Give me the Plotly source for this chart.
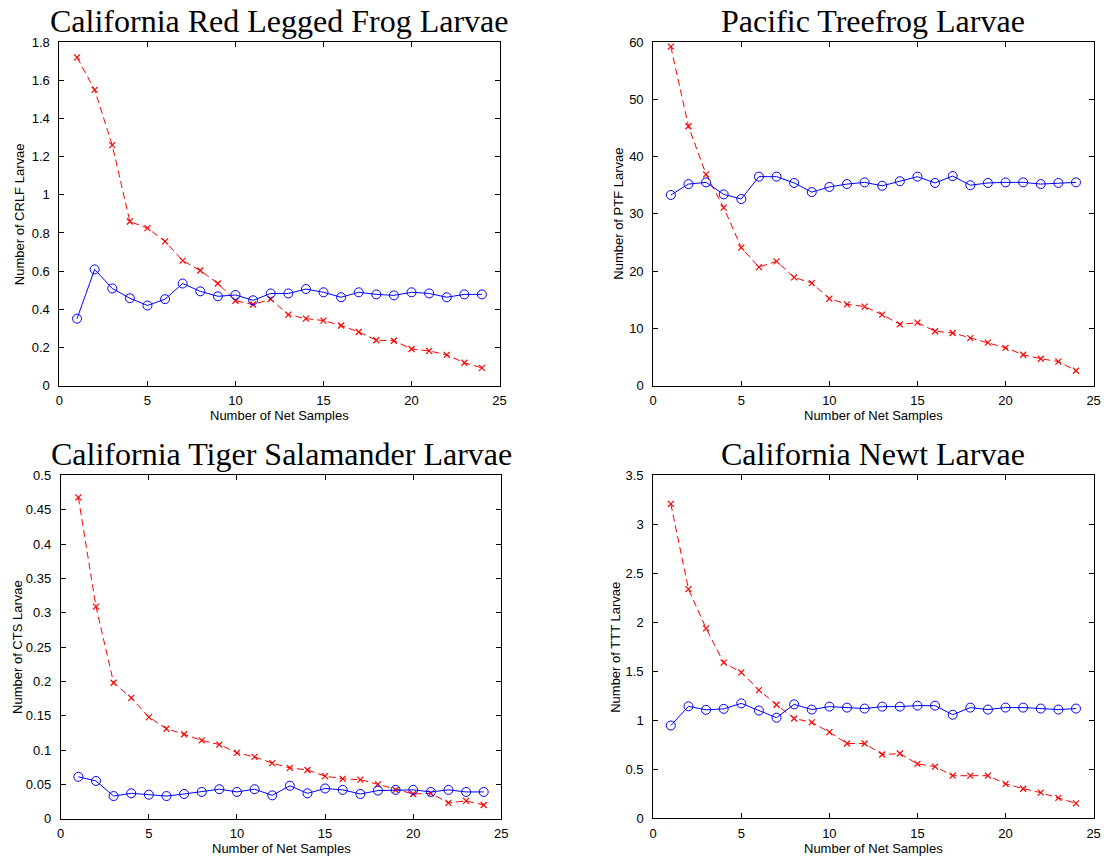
import plotly.graph_objects as go

samples = list(range(1, 25))

# California Red Legged Frog (CRLF)
crlf_red = [1.72, 1.55, 1.26, 0.86, 0.825, 0.756, 0.655, 0.603, 0.535, 0.445, 0.425, 0.453,
            0.372, 0.351, 0.341, 0.315, 0.281, 0.238, 0.235, 0.192, 0.182, 0.161, 0.12, 0.093]
crlf_blue = [0.351, 0.609, 0.509, 0.458, 0.42, 0.453, 0.535, 0.494, 0.468, 0.475, 0.447, 0.483,
             0.483, 0.506, 0.489, 0.463, 0.489, 0.478, 0.473, 0.489, 0.483, 0.463, 0.478, 0.478]

# Pacific Treefrog (PTF)
ptf_red = [59.2, 45.3, 36.9, 31.1, 24.1, 20.7, 21.7, 18.9, 17.9, 15.2, 14.2, 13.8,
           12.4, 10.7, 11.0, 9.5, 9.2, 8.3, 7.5, 6.6, 5.4, 4.7, 4.2, 2.6]
ptf_blue = [33.3, 35.2, 35.5, 33.4, 32.6, 36.5, 36.5, 35.4, 33.8, 34.7, 35.2, 35.5,
            34.9, 35.7, 36.5, 35.4, 36.6, 35.0, 35.4, 35.5, 35.5, 35.2, 35.4, 35.5]

# California Tiger Salamander (CTS)
cts_red = [0.468, 0.309, 0.198, 0.176, 0.148, 0.131, 0.123, 0.114, 0.108, 0.096, 0.090, 0.081,
           0.074, 0.071, 0.062, 0.058, 0.057, 0.050, 0.042, 0.036, 0.037, 0.023, 0.026, 0.020]
cts_blue = [0.061, 0.055, 0.033, 0.037, 0.035, 0.033, 0.036, 0.039, 0.043, 0.039, 0.043, 0.034,
            0.048, 0.037, 0.044, 0.042, 0.036, 0.041, 0.042, 0.042, 0.039, 0.042, 0.039, 0.039]

# California Newt (TTT)
ttt_red = [3.21, 2.34, 1.94, 1.59, 1.49, 1.31, 1.16, 1.02, 0.98, 0.88, 0.765, 0.765,
           0.652, 0.662, 0.556, 0.529, 0.436, 0.436, 0.436, 0.353, 0.303, 0.263, 0.21, 0.153]
ttt_blue = [0.948, 1.144, 1.108, 1.118, 1.174, 1.101, 1.028, 1.164, 1.111, 1.141, 1.131, 1.121,
            1.141, 1.141, 1.151, 1.151, 1.058, 1.131, 1.111, 1.131, 1.131, 1.121, 1.111, 1.121]

titles = ["California Red Legged Frog Larvae", "Pacific Treefrog Larvae",
          "California Tiger Salamander Larvae", "California Newt Larvae"]
ylabels = ["Number of CRLF Larvae", "Number of PTF Larvae",
           "Number of CTS Larvae", "Number of TTT Larvae"]
xlabel = "Number of Net Samples"

x_ticks = [0, 5, 10, 15, 20, 25]
x_ticktext = ["0", "5", "10", "15", "20", "25"]
y_ticks = [
    [0, 0.2, 0.4, 0.6, 0.8, 1.0, 1.2, 1.4, 1.6, 1.8],
    [0, 10, 20, 30, 40, 50, 60],
    [0, 0.05, 0.1, 0.15, 0.2, 0.25, 0.3, 0.35, 0.4, 0.45, 0.5],
    [0, 0.5, 1.0, 1.5, 2.0, 2.5, 3.0, 3.5],
]
y_ticktext = [
    ["0", "0.2", "0.4", "0.6", "0.8", "1", "1.2", "1.4", "1.6", "1.8"],
    ["0", "10", "20", "30", "40", "50", "60"],
    ["0", "0.05", "0.1", "0.15", "0.2", "0.25", "0.3", "0.35", "0.4", "0.45", "0.5"],
    ["0", "0.5", "1", "1.5", "2", "2.5", "3", "3.5"],
]
y_max = [1.8, 60, 0.5, 3.5]

reds = [crlf_red, ptf_red, cts_red, ttt_red]
blues = [crlf_blue, ptf_blue, cts_blue, ttt_blue]

W, H = 1112, 867
# pixel boxes (left, right, top, bottom)
boxes = [
    (56, 500.5, 35.7, 385.3),
    (655.7, 1100.5, 35.7, 385.3),
    (57.3, 502.3, 476.7, 826),
    (655.7, 1100.5, 476.7, 825.7),
]
ytitle_x = [16.5, 621, 13, 618]

fig = go.Figure()
layout = dict(width=W, height=H, margin=dict(l=0, r=0, t=0, b=0),
              paper_bgcolor="white", plot_bgcolor="white", showlegend=False,
              font=dict(family="Liberation Sans, Arial", size=13, color="black"))
annotations = []

for i in range(4):
    xa = "xaxis" if i == 0 else f"xaxis{i+1}"
    ya = "yaxis" if i == 0 else f"yaxis{i+1}"
    xr = "x" if i == 0 else f"x{i+1}"
    yr = "y" if i == 0 else f"y{i+1}"
    l, r, t, b = boxes[i]
    axis_common = dict(showline=True, linecolor="black", linewidth=1, mirror="ticks",
                       ticks="inside", ticklen=5, tickwidth=1, tickcolor="black",
                       showgrid=False, zeroline=False,
                       tickfont=dict(family="Liberation Sans, Arial", size=13, color="black"))
    layout[xa] = dict(domain=[l / W, r / W], range=[0, 25], anchor=yr,
                      tickmode="array", tickvals=x_ticks, ticktext=x_ticktext,
                      ticklabelstandoff=3, **axis_common)
    layout[ya] = dict(domain=[(H - b) / H, (H - t) / H], range=[0, y_max[i]], anchor=xr,
                      tickmode="array", tickvals=y_ticks[i], ticktext=y_ticktext[i],
                      ticklabelstandoff=6, **axis_common)

    fig.add_trace(go.Scatter(x=samples, y=reds[i], mode="lines+markers", xaxis=xr, yaxis=yr,
                             line=dict(color="#FF0000", width=1, dash="7px,4px"),
                             marker=dict(symbol="x-thin", size=6,
                                         line=dict(color="#FF0000", width=1.2)),
                             cliponaxis=False))
    fig.add_trace(go.Scatter(x=samples, y=blues[i], mode="lines+markers", xaxis=xr, yaxis=yr,
                             line=dict(color="#0000FF", width=1),
                             marker=dict(symbol="circle-open", size=9,
                                         line=dict(color="#0000FF", width=1)),
                             cliponaxis=False))

    annotations.append(dict(text=titles[i], xref="paper", yref="paper",
                            x=(l + r) / 2 / W, y=(H - t) / H, xanchor="center", yanchor="bottom",
                            yshift=1, showarrow=False,
                            font=dict(family="Liberation Serif, Times New Roman", size=32,
                                      color="black")))
    annotations.append(dict(text=xlabel, xref="paper", yref="paper",
                            x=(l + r) / 2 / W, y=(H - b - 30.5) / H, xanchor="center",
                            yanchor="middle", showarrow=False,
                            font=dict(family="Liberation Sans, Arial", size=13, color="black")))
    annotations.append(dict(text=ylabels[i], xref="paper", yref="paper",
                            x=ytitle_x[i] / W, y=(H - (t + b) / 2) / H, xanchor="center",
                            yanchor="middle", textangle=-90, showarrow=False,
                            font=dict(family="Liberation Sans, Arial", size=13, color="black")))

layout["annotations"] = annotations
fig.update_layout(**layout)
fig.write_html("out.html")
